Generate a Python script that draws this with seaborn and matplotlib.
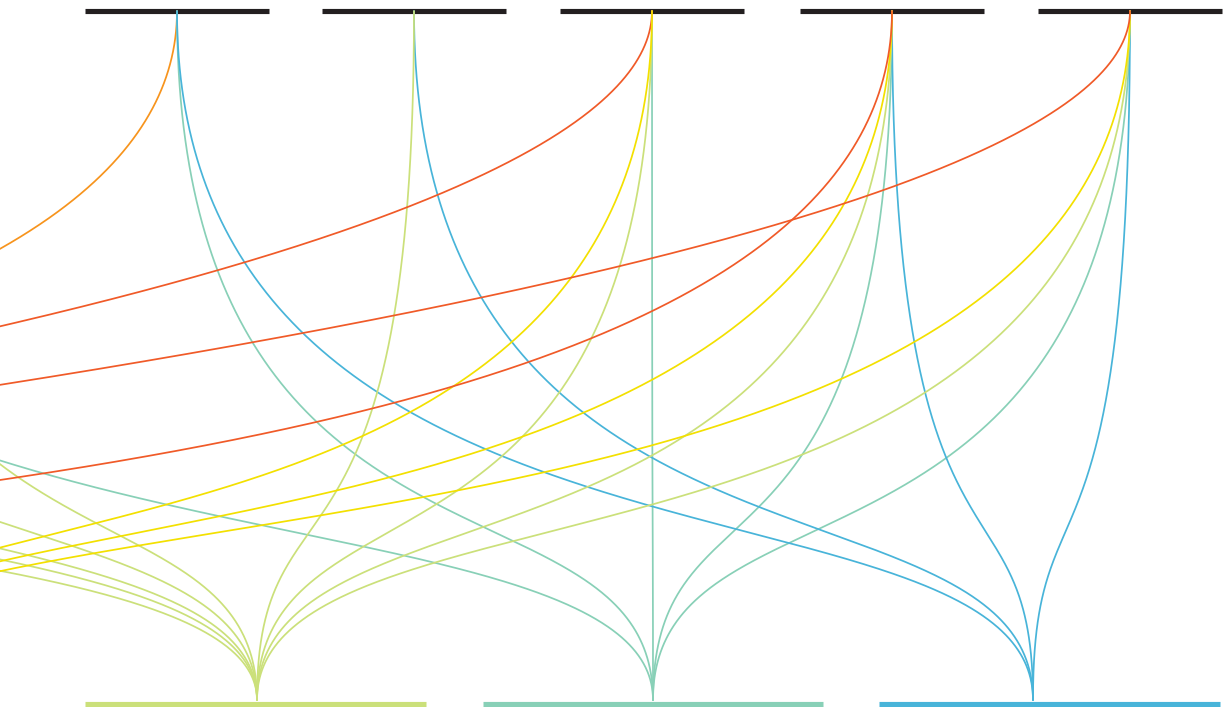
import numpy as np
import pandas as pd
import matplotlib
matplotlib.use("Agg")
import matplotlib.pyplot as plt
import seaborn as sns

sns.set_theme(style="white")

# ---------------- data ----------------
# top row nodes (black bars); L* nodes lie off the left edge of the picture
top_nodes = ["L5", "L4", "L3", "L2", "L1", "T1", "T2", "T3", "T4", "T5"]
# bottom row categories (coloured bars); the first ones lie off the left edge
bottom_cats = ["orange", "red_a", "red_b", "red", "yellow", "yellowgreen", "teal", "blue"]

link_source = ["T1", "T1", "T1",
               "T2", "T2",
               "T3", "T3", "T3", "T3",
               "T4", "T4", "T4", "T4", "T4",
               "T5", "T5", "T5", "T5", "T5",
               "L1", "L2", "L2", "L3", "L4", "L5"]
link_target = ["orange", "teal", "blue",
               "yellowgreen", "blue",
               "red_a", "yellow", "yellowgreen", "teal",
               "red", "yellow", "yellowgreen", "teal", "blue",
               "red_b", "yellow", "yellowgreen", "teal", "blue",
               "yellowgreen", "teal", "yellowgreen", "yellowgreen", "yellowgreen", "yellowgreen"]

# ---------------- layout ----------------
W, H = 1229, 707
TOP_Y, BOT_Y = 11, 700
top_x = {"L5": -1224, "L4": -933, "L3": -726, "L2": -422, "L1": -174,
         "T1": 177, "T2": 414, "T3": 652, "T4": 892, "T5": 1130}
top_bar_half = 92
bottom_anchor = {"orange": (-2383, BOT_Y), "red_a": (-126150, 3011), "red_b": (-152820, 3011),
                 "red": (-1068, BOT_Y), "yellow": (-235, BOT_Y),
                 "yellowgreen": (257, BOT_Y), "teal": (653, BOT_Y), "blue": (1033, BOT_Y)}
bottom_bars = {"yellowgreen": (85, 426), "teal": (483, 823), "blue": (879, 1220)}

palette = {"orange": "#f7941d", "red_a": "#f05a28", "red_b": "#f05a28", "red": "#f05a28",
           "yellow": "#f3e000", "yellowgreen": "#cbe07a", "teal": "#88d0b7", "blue": "#48b4d9"}

A_CTRL, C_CTRL = 0.88, 0.65


def curve(x1, y1, x2, y2):
    # dense sampling near the start so far-reaching links stay smooth on screen
    t = np.unique(np.concatenate([np.geomspace(1e-6, 1, 3000), [0.0], np.linspace(0, 1, 600)]))
    h = y2 - y1
    p = np.array([[x1, y1], [x1, y1 + A_CTRL * h], [x2, y1 + C_CTRL * h], [x2, y2]], float)
    b = np.stack([(1 - t) ** 3, 3 * (1 - t) ** 2 * t, 3 * (1 - t) * t ** 2, t ** 3], axis=1)
    pts = b @ p
    xs, ys = pts[:, 0], pts[:, 1]
    keep = (xs > -60) & (xs < W + 60) & (ys < H + 20)
    return xs[keep], ys[keep]


rows = []
for i, (s, tg) in enumerate(zip(link_source, link_target)):
    x2, y2 = bottom_anchor[tg]
    xs, ys = curve(top_x[s], TOP_Y, x2, y2)
    rows.append(pd.DataFrame({"link": i, "x": xs, "y": ys, "cat": tg}))
df = pd.concat(rows, ignore_index=True)

fig = plt.figure(figsize=(W / 100, H / 100), dpi=100)
ax = fig.add_axes([0, 0, 1, 1])

# top bars
for n in top_nodes:
    cx = top_x[n]
    ax.plot([cx - top_bar_half, cx + top_bar_half], [TOP_Y, TOP_Y], color="#231f20",
            lw=3.7, solid_capstyle="butt", zorder=1)
# bottom bars
for c, (a, b) in bottom_bars.items():
    ax.plot([a, b], [703.5, 703.5], color=palette[c], lw=3.7, solid_capstyle="butt", zorder=1)

sns.lineplot(data=df, x="x", y="y", units="link", hue="cat", palette=palette,
             estimator=None, sort=False, legend=False, linewidth=1.25, ax=ax, zorder=2)

ax.set_xlim(0, W)
ax.set_ylim(H, 0)
ax.axis("off")
fig.savefig("out.png", dpi=100, facecolor="white")
